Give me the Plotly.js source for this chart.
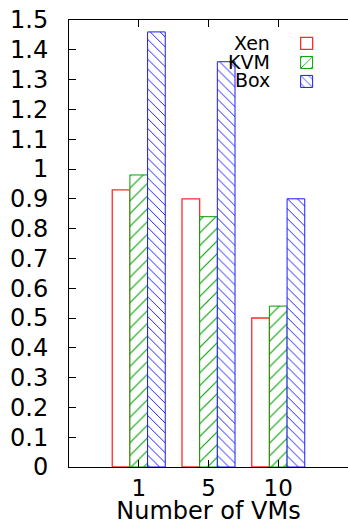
<!DOCTYPE html>
<html>
<head>
<meta charset="utf-8">
<script src="https://cdn.plot.ly/plotly-3.0.1.min.js"></script>
<style>
html,body{margin:0;padding:0;background:#fff;}
#chart{width:348px;height:525px;}
</style>
</head>
<body>
<div id="chart"></div>
<script>
const categories = ["1", "5", "10"];
const seriesNames = ["Xen", "KVM", "Box"];
const xenValues = [0.93, 0.90, 0.50];
const kvmValues = [0.98, 0.84, 0.54];
const boxValues = [1.46, 1.36, 0.90];
const yTickVals = [0, 0.1, 0.2, 0.3, 0.4, 0.5, 0.6, 0.7, 0.8, 0.9, 1, 1.1, 1.2, 1.3, 1.4, 1.5];
const yTickText = ["0", "0.1", "0.2", "0.3", "0.4", "0.5", "0.6", "0.7", "0.8", "0.9", "1", "1.1", "1.2", "1.3", "1.4", "1.5"];

const FONT = "DejaVu Sans, Liberation Sans, Arial, sans-serif";
const RED = "#ff2a2a", GREEN = "#00a000", BLUE = "#1a1aff";

const traces = [
  {type: "bar", x: categories, y: xenValues, name: " ",
   marker: {color: "rgba(255,255,255,0)", line: {color: RED, width: 1.3}}},
  {type: "bar", x: categories, y: kvmValues, name: "  ",
   marker: {color: "#ffffff", line: {color: GREEN, width: 1},
            pattern: {shape: "/", fgcolor: GREEN, bgcolor: "#ffffff", size: 9, solidity: 0.12}}},
  {type: "bar", x: categories, y: boxValues, name: "   ",
   marker: {color: "#ffffff", line: {color: BLUE, width: 1},
            pattern: {shape: "\\", fgcolor: BLUE, bgcolor: "#ffffff", size: 7, solidity: 0.14}}}
];

const layout = {
  width: 348, height: 525,
  margin: {l: 69, r: 0, t: 20, b: 58},
  paper_bgcolor: "#ffffff", plot_bgcolor: "#ffffff",
  font: {family: FONT, color: "#000000", size: 24},
  barmode: "group", bargap: 0.24, bargroupgap: 0,
  showlegend: true,
  legend: {x: 0.78, y: 0.98, xanchor: "left", yanchor: "top",
           bgcolor: "rgba(0,0,0,0)", font: {size: 12}, tracegroupgap: 0,
           itemwidth: 30},
  xaxis: {
    type: "category", range: [-1, 3], showgrid: false, zeroline: false,
    showline: true, linecolor: "#000", linewidth: 1, mirror: "ticks",
    ticks: "inside", ticklen: 7, tickcolor: "#000",
    tickfont: {size: 23, family: FONT},
    title: {text: "Number of VMs", font: {size: 24, family: FONT}, standoff: 4}
  },
  yaxis: {
    range: [0, 1.5], showgrid: false, zeroline: false,
    showline: true, linecolor: "#000", linewidth: 1, mirror: false,
    ticks: "inside", ticklen: 7, tickcolor: "#000",
    tickvals: yTickVals, ticktext: yTickText, ticklabelstandoff: 15,
    tickfont: {size: 24, family: FONT}
  },
  yaxis2: {
    overlaying: "y", side: "right", matches: "y", range: [0, 1.5],
    showgrid: false, zeroline: false, showline: false,
    ticks: "inside", ticklen: 7, tickcolor: "#000",
    tickvals: yTickVals, showticklabels: false
  },
  annotations: seriesNames.map((n, i) => ({
    text: n, xref: "paper", yref: "paper", x: 0.726, y: [0.9485, 0.906, 0.866][i],
    xanchor: "right", yanchor: "middle", showarrow: false,
    font: {size: 19, family: FONT, color: "#000"}
  }))
};

Plotly.newPlot("chart", traces, layout, {displayModeBar: false, staticPlot: true});
</script>
</body>
</html>
